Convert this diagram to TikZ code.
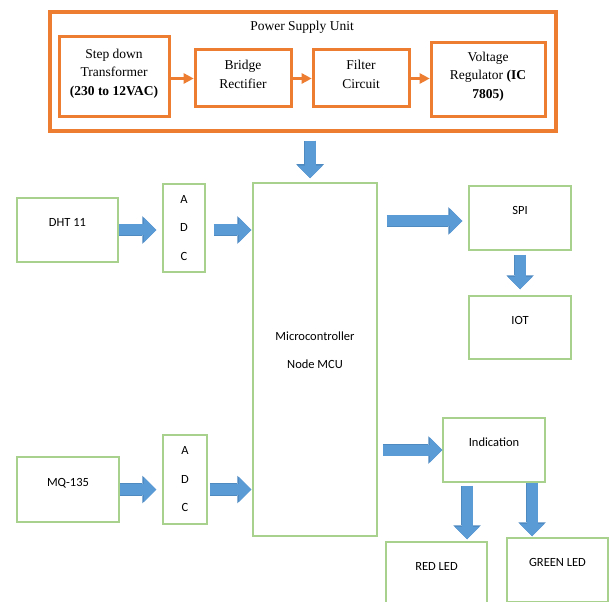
\documentclass[tikz,border=0pt]{standalone}
\usepackage{fontspec}
\setmainfont{Liberation Serif}
\newfontfamily\calibri{Carlito}
\usetikzlibrary{arrows.meta, positioning}
\definecolor{psuorange}{HTML}{ED7D31}
\definecolor{boxgreen}{HTML}{A9D18E}
\definecolor{flowblue}{HTML}{5B9BD5}
\definecolor{flowedge}{HTML}{4E89C0}

\begin{document}
\begin{tikzpicture}[x=1pt, y=-1pt,
    psubox/.style={draw=psuorange, line width=3pt, align=center, inner sep=0pt, font=\fontsize{13.5}{18.5}\selectfont},
    blk/.style={draw=boxgreen, line width=1.5pt, align=center, inner sep=0pt, font=\calibri\fontsize{12.5}{15}\selectfont},
    lbl/.style={blk, text height=9pt, text depth=16pt},
    psuedge/.style={draw=psuorange, line width=3pt, -{Triangle[length=10pt,width=11pt,line width=0pt]}},
    flow/.style={draw=flowblue, line width=11pt, -{Triangle[length=12.5pt,width=25pt,line width=0pt]},
        preaction={draw=flowedge, line width=12.5pt, -{Triangle[length=14pt,width=27.5pt,line width=0pt]}}}
]
    \useasboundingbox (0,0) rectangle (609,601);
    \clip (0,0) rectangle (609,601);

    % power supply unit
    \node[psubox, line width=3.5pt, minimum width=506pt, minimum height=119pt] (psu) at (303,71.5) {};
    \node[font=\fontsize{13.5}{16}\selectfont] (psutitle) at (302,27) {Power Supply Unit};
    \node[psubox, minimum width=110pt, minimum height=80pt, text depth=10pt] (step) at (114,77) {Step down\\Transformer\\\textbf{(230 to 12VAC)}};
    \node[psubox, minimum width=96pt, minimum height=57pt, text depth=8pt] (bridge) at (243,78.5) {Bridge\\Rectifier};
    \node[psubox, minimum width=96pt, minimum height=57pt, text depth=8pt] (filter) at (361,78.5) {Filter\\Circuit};
    \node[psubox, minimum width=114pt, minimum height=74pt, text depth=10pt] (volt) at (488,80) {Voltage\\Regulator \textbf{(IC}\\\textbf{7805)}};

    \draw[psuedge] (step.east |- bridge.west) -- (bridge.west);
    \draw[psuedge] (bridge.east) -- (filter.west);
    \draw[psuedge] (filter.east) -- (filter.east -| volt.west);

    % sensors and converters
    \node[lbl, minimum width=101pt, minimum height=64pt] (dht) at (67.5,230) {DHT 11};
    \node[blk, minimum width=42pt, minimum height=88pt, font=\calibri\fontsize{12.5}{28.5}\selectfont] (adc1) at (184,228) {A\\D\\C};
    \node[lbl, minimum width=102pt, minimum height=65pt] (mq) at (68,489.5) {MQ-135};
    \node[blk, minimum width=44pt, minimum height=89pt, font=\calibri\fontsize{12.5}{28.5}\selectfont] (adc2) at (185,479.5) {A\\D\\C};

    % controller
    \node[blk, minimum width=124pt, minimum height=353pt, font=\calibri\fontsize{12.5}{28}\selectfont, text depth=18pt] (mcu) at (315,359.5) {Microcontroller\\Node MCU};

    % outputs
    \node[lbl, minimum width=102pt, minimum height=64pt] (spi) at (520,218) {SPI};
    \node[lbl, minimum width=102pt, minimum height=63pt] (iot) at (520,327.5) {IOT};
    \node[lbl, minimum width=102pt, minimum height=64pt] (ind) at (494,450) {Indication};
    \node[lbl, minimum width=101pt, minimum height=64pt] (red) at (436.5,574) {RED LED};
    \node[lbl, minimum width=101pt, minimum height=64pt] (green) at (557.5,570) {GREEN LED};
    \coordinate (spiin) at ([yshift=-3pt]spi.west);

    % block arrows
    \draw[flow, shorten <=8pt, shorten >=4pt] ([xshift=-5pt]mcu.north |- psu.south) -- ([xshift=-5pt]mcu.north);
    \draw[flow, shorten >=6pt] (dht.east) -- (dht.east -| adc1.west);
    \draw[flow, shorten <=8pt, shorten >=1pt] (adc1.east |- dht.east) -- (mcu.west |- dht.east);
    \draw[flow, shorten >=6pt] (mq.east) -- (mq.east -| adc2.west);
    \draw[flow, shorten <=2pt, shorten >=1pt] (adc2.east |- mq.east) -- (mcu.west |- mq.east);
    \draw[flow, shorten <=9pt, shorten >=6pt] (mcu.east |- spiin) -- (spiin);
    \draw[flow, shorten <=4pt, shorten >=6pt] (spi.south) -- (iot.north);
    \draw[flow, shorten <=5pt] (mcu.east |- ind.west) -- (ind.west);
    \draw[flow, shorten <=3pt, shorten >=2pt] ([xshift=-27pt]ind.south) -- ([xshift=-27pt]ind.south |- red.north);
    \draw[flow, shorten >=1pt] ([xshift=38pt]ind.south) -- ([xshift=38pt]ind.south |- green.north);
\end{tikzpicture}
\end{document}
